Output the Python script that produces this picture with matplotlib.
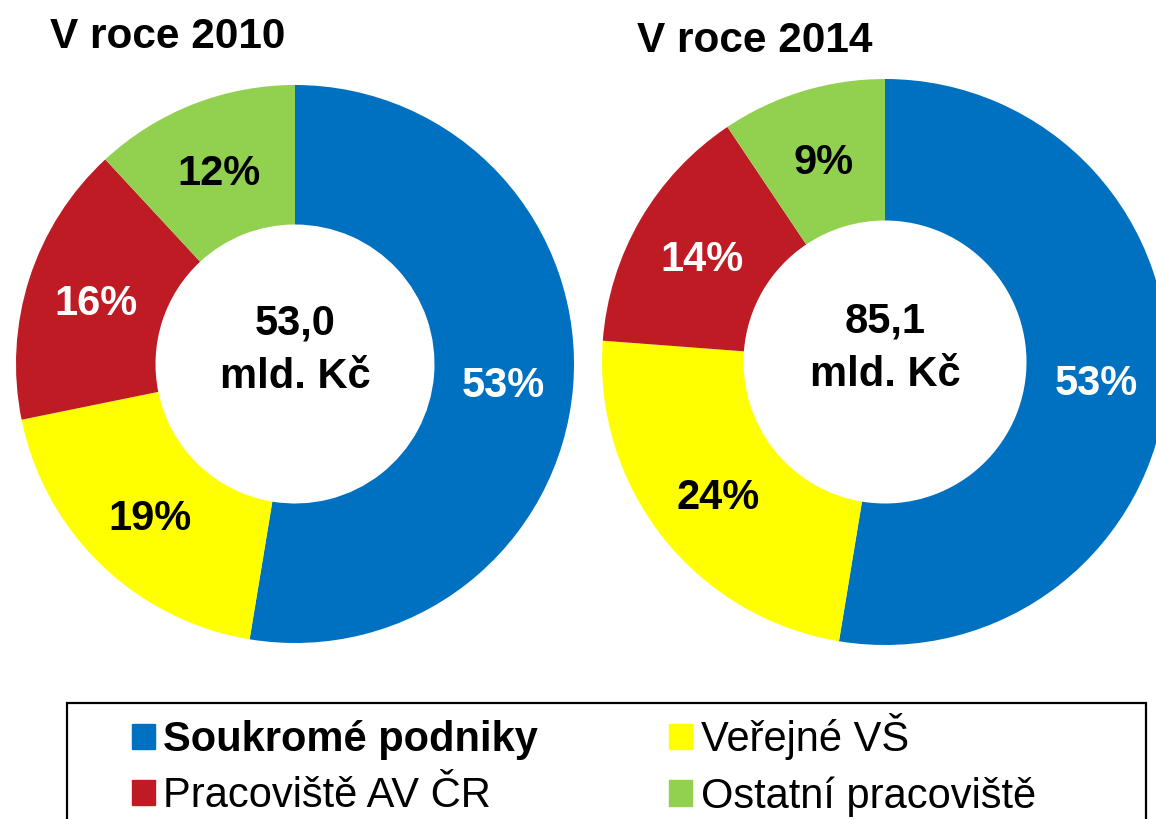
import matplotlib
matplotlib.use("Agg")
import matplotlib.pyplot as plt
import matplotlib.patches as mpatches

plt.rcParams['font.family'] = ['Liberation Sans', 'DejaVu Sans']

categories = ["Soukromé podniky", "Veřejné VŠ", "Pracoviště AV ČR", "Ostatní pracoviště"]
colors = ["#0070C0", "#FFFF00", "#BE1B24", "#92D050"]
label_colors = ["white", "black", "white", "black"]
share_2010 = [52.6, 19.2, 16.3, 11.9]
share_2014 = [52.6, 23.6, 14.4, 9.4]
titles = ["V roce 2010", "V roce 2014"]
totals = ["53,0", "85,1"]
unit = "mld. Kč"

W, H = 1156, 819
fig = plt.figure(figsize=(W / 100, H / 100), dpi=100)


def px_axes(cx, cy, r):
    return fig.add_axes([(cx - r) / W, 1 - (cy + r) / H, 2 * r / W, 2 * r / H])


def donut(ax, values, total, r_px):
    wedges, texts, autotexts = ax.pie(
        values, colors=colors, startangle=90, counterclock=False,
        radius=1, wedgeprops=dict(width=0.5, linewidth=0),
        autopct=lambda p: f"{p:.0f}%", pctdistance=0.75,
        textprops=dict(fontsize=30, fontweight='bold'))
    for t, c in zip(autotexts, label_colors):
        t.set_color(c)
        t.set_verticalalignment('center_baseline')
    for w in wedges:
        w.set_clip_on(False)
    ax.set_xlim(-1, 1)
    ax.set_ylim(-1, 1)
    ax.set_aspect('equal')
    # centre text, two lines
    ax.text(0, 45 / r_px, total, ha='center', va='center_baseline',
            fontsize=30, fontweight='bold')
    ax.text(0, -8 / r_px, unit, ha='center', va='center_baseline',
            fontsize=30, fontweight='bold')
    return wedges


ax1 = px_axes(295, 364, 279)
donut(ax1, share_2010, totals[0], 279)
ax2 = px_axes(885, 362, 283)
donut(ax2, share_2014, totals[1], 283)

fig.text(50 / W, 1 - 48 / H, titles[0], fontsize=30.5, fontweight='bold', ha='left', va='baseline')
fig.text(637 / W, 1 - 52 / H, titles[1], fontsize=30.5, fontweight='bold', ha='left', va='baseline')

# legend: column-wise fill -> order 0, 2, 1, 3
order = [0, 2, 1, 3]
handles = [mpatches.Patch(color=colors[i]) for i in order]
labels = [categories[i] for i in order]
leg = fig.legend(handles, labels, ncol=2, frameon=False, loc='upper left',
                 bbox_to_anchor=(132 / W, 1 - 713 / H), borderpad=0, borderaxespad=0,
                 fontsize=30, handlelength=0.55, handleheight=0.55,
                 handletextpad=0.2, columnspacing=3.15, labelspacing=0.39)
for t in leg.get_texts():
    if t.get_text() == categories[0]:
        t.set_fontweight('bold')

frame = mpatches.Rectangle((67 / W, -0.05), (1146 - 67) / W, 0.05 + 1 - 703 / H,
                           transform=fig.transFigure, fill=False, edgecolor='black',
                           linewidth=1.6, clip_on=False)
fig.add_artist(frame)

fig.savefig("out.png", dpi=100)
